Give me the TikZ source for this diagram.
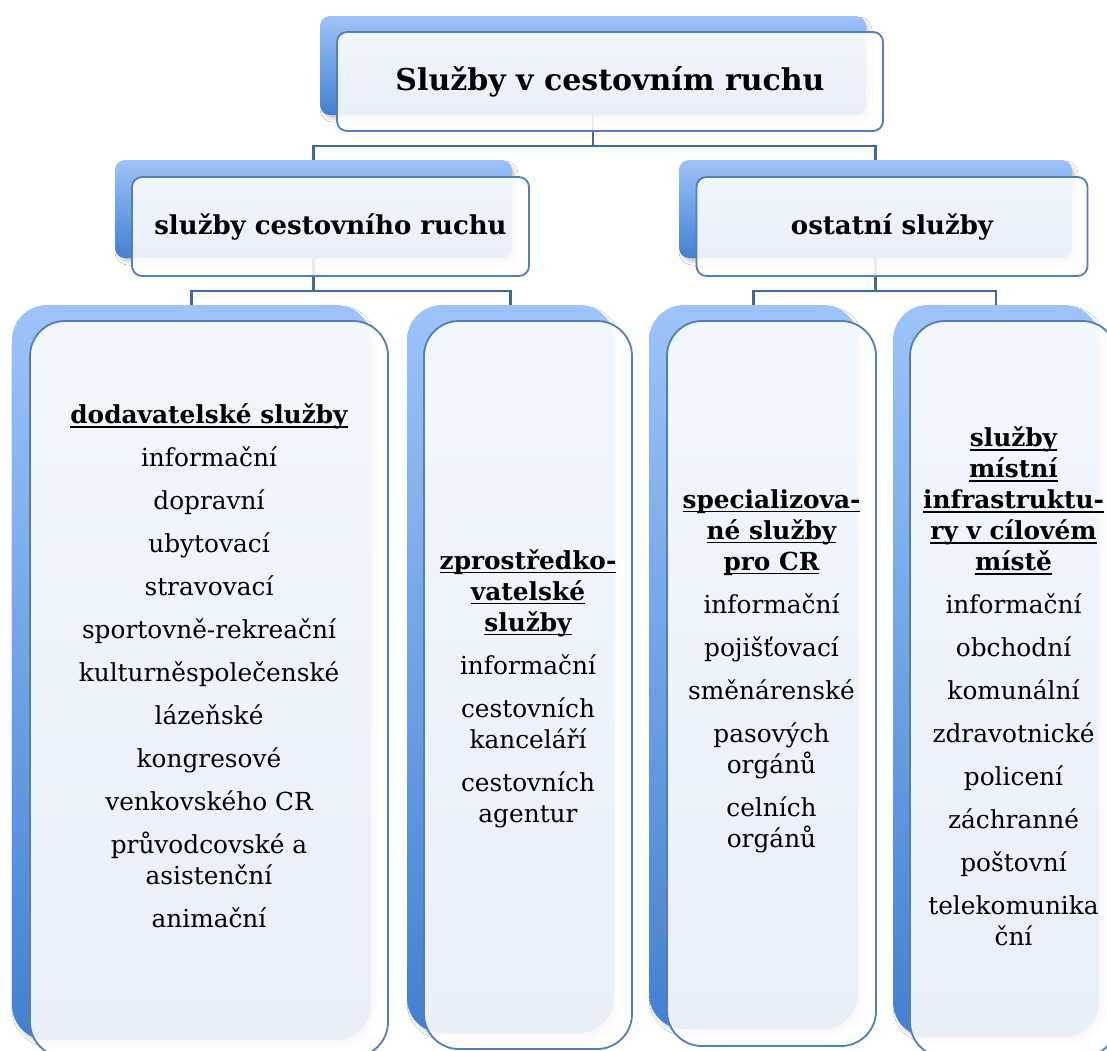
\documentclass[tikz,border=0pt]{standalone}
\usepackage{fontspec}
\setmainfont{DejaVu Serif}
\usetikzlibrary{shadows.blur}

\definecolor{backtop}{HTML}{9DC3FA}
\definecolor{backbot}{HTML}{4380D0}
\definecolor{frameblue}{HTML}{4F7FBD}
\definecolor{linkblue}{HTML}{3D6AA2}

% underline at a fixed depth below the baseline
\newsavebox\undlbox
\newcommand\undl[1]{\sbox\undlbox{#1}\rlap{\rule[-4pt]{\wd\undlbox}{1.5pt}}\usebox\undlbox}

\tikzset{
  backbox/.style={inner sep=0pt, outer sep=0pt, top color=backtop, bottom color=backbot,
    blur shadow={shadow xshift=3pt, shadow yshift=-4pt, shadow blur radius=3pt, shadow opacity=20}},
  frontbox/.style={inner sep=0pt, outer sep=0pt, draw=frameblue, line width=1.8pt,
    fill=white, fill opacity=0.88},
  link/.style={draw=linkblue, line width=2.2pt},
  titletext/.style={inner sep=0pt, font=\fontsize{30}{36}\selectfont\bfseries},
  headtext/.style={inner sep=0pt, font=\fontsize{26}{32}\selectfont\bfseries},
  bodytext/.style={inner sep=0pt, align=center, font=\fontsize{24.8}{31}\selectfont},
}

\begin{document}
\begin{tikzpicture}[x=1pt, y=-1pt]
\useasboundingbox (0,0) rectangle (1107,1050);
\clip (0,0) rectangle (1107,1050);
\fill[white] (0,0) rectangle (1107,1050);

% back panels
\node[backbox, rounded corners=10pt, minimum width=546pt, minimum height=99pt] (b0) at (593,65.5) {};
\node[backbox, rounded corners=10pt, minimum width=397pt, minimum height=98pt] (b1) at (313.5,209) {};
\node[backbox, rounded corners=10pt, minimum width=393pt, minimum height=98pt] (b2) at (875.5,209) {};
\node[backbox, rounded corners=35pt, minimum width=359pt, minimum height=735pt] (bA) at (191.5,672.5) {};
\node[backbox, rounded corners=35pt, minimum width=207pt, minimum height=728pt] (bB) at (510.5,669) {};
\node[backbox, rounded corners=35pt, minimum width=209pt, minimum height=724pt] (bC) at (753.5,667) {};
\node[backbox, rounded corners=35pt, minimum width=206pt, minimum height=732pt] (bD) at (996,671) {};

% connectors
\draw[link] (b0.south) -- ++(0,31) -| (b1.north);
\draw[link] (b0.south) -- ++(0,31) -| (b2.north);
\draw[link] (b1.south) -- ++(0,33) -| (bA.north);
\draw[link] (b1.south) -- ++(0,33) -| (bB.north);
\draw[link] (b2.south) -- ++(0,33) -| (bC.north);
\draw[link] (b2.south) -- ++(0,33) -| (bD.north);

% front panels
\node[frontbox, rounded corners=10pt, minimum width=546pt, minimum height=99pt] (f0) at (610,81.5) {};
\node[frontbox, rounded corners=10pt, minimum width=397pt, minimum height=99pt] (f1) at (330.5,226.5) {};
\node[frontbox, rounded corners=10pt, minimum width=391pt, minimum height=99pt] (f2) at (892,226.5) {};
\node[frontbox, rounded corners=35pt, minimum width=358pt, minimum height=736pt] (fA) at (209,689) {};
\node[frontbox, rounded corners=35pt, minimum width=208pt, minimum height=728pt] (fB) at (528,685) {};
\node[frontbox, rounded corners=35pt, minimum width=209pt, minimum height=725pt] (fC) at (771.5,683.5) {};
\node[frontbox, rounded corners=35pt, minimum width=207pt, minimum height=736pt] (fD) at (1013.5,689) {};

% texts
\node[titletext] (t0) at (f0.center) {Služby v cestovním ruchu};
\node[headtext] (t1) at (f1.center) {služby cestovního ruchu};
\node[headtext] (t2) at (f2.center) {ostatní služby};

\node[bodytext] (tA) at (209,666) {\textbf{\undl{dodavatelské služby}}\\[12pt]
  informační\\[12pt] dopravní\\[12pt] ubytovací\\[12pt] stravovací\\[12pt]
  sportovně-rekreační\\[12pt] kulturněspolečenské\\[12pt] lázeňské\\[12pt]
  kongresové\\[12pt] venkovského CR\\[12pt] průvodcovské a\\ asistenční\\[12pt] animační};

\node[bodytext] (tB) at (528,688.5) {\textbf{\undl{zprostředko-}}\\ \textbf{\undl{vatelské}}\\
  \textbf{\undl{služby}}\\[12pt] informační\\[12pt] cestovních\\ kanceláří\\[12pt]
  cestovních\\ agentur};

\node[bodytext] (tC) at (771.5,671) {\textbf{\undl{specializova-}}\\ \textbf{\undl{né služby}}\\
  \textbf{\undl{pro CR}}\\[12pt] informační\\[12pt] pojišťovací\\[12pt] směnárenské\\[12pt]
  pasových\\ orgánů\\[12pt] celních\\ orgánů};

\node[bodytext] (tD) at (1013.5,686.5) {\textbf{\undl{služby}}\\ \textbf{\undl{místní}}\\
  \textbf{\undl{infrastruktu-}}\\ \textbf{\undl{ry v cílovém}}\\ \textbf{\undl{místě}}\\[12pt]
  informační\\[12pt] obchodní\\[12pt] komunální\\[12pt] zdravotnické\\[12pt] policení\\[12pt]
  záchranné\\[12pt] poštovní\\[12pt] telekomunika\\ ční};
\end{tikzpicture}
\end{document}
